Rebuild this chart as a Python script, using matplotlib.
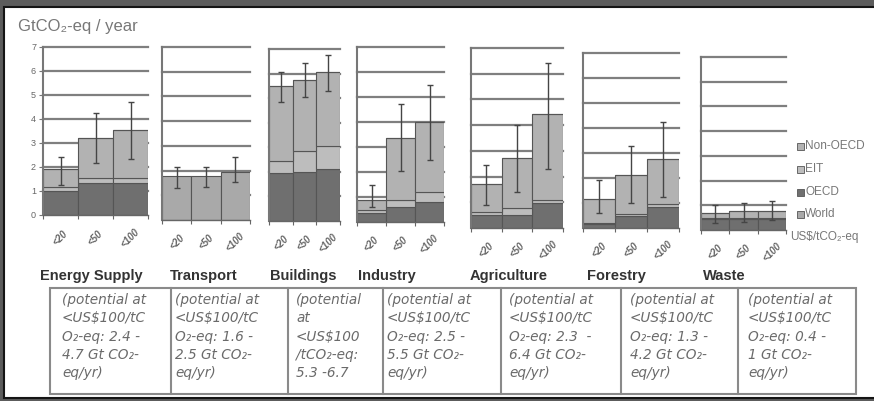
import matplotlib
matplotlib.use('Agg')
import matplotlib.pyplot as plt
from matplotlib.patches import Rectangle
from matplotlib.lines import Line2D

plt.rcParams['font.family'] = ['Liberation Sans', 'DejaVu Sans']

# ---------------- data ----------------
sectors = ["Energy Supply", "Transport", "Buildings", "Industry",
           "Agriculture", "Forestry", "Waste"]
price_labels = ["<20", "<50", "<100"]

oecd = [[1.00, 1.35, 1.35], [0, 0, 0], [1.95, 2.00, 2.10], [0.35, 0.60, 0.80],
        [0.50, 0.50, 0.97], [0.15, 0.50, 0.85], [0.45, 0.45, 0.45]]
eit = [[0.15, 0.18, 0.18], [0, 0, 0], [0.50, 0.85, 0.95], [0.15, 0.30, 0.40],
       [0.12, 0.28, 0.13], [0.05, 0.05, 0.10], [0.05, 0.05, 0.05]]
non_oecd = [[0.75, 1.67, 2.02], [0, 0, 0], [3.05, 2.90, 3.03], [0.40, 2.45, 2.80],
            [1.10, 1.93, 3.32], [0.97, 1.58, 1.81], [0.18, 0.25, 0.28]]
world = [[0, 0, 0], [1.80, 1.80, 1.95], [0, 0, 0], [0, 0, 0],
         [0, 0, 0], [0, 0, 0], [0, 0, 0]]
err_low = [[1.25, 2.15, 2.35], [1.30, 1.33, 1.55], [4.86, 5.06, 5.30], [0.60, 2.06, 2.48],
           [0.90, 1.40, 2.30], [0.60, 1.02, 1.26], [0.27, 0.33, 0.40]]
err_high = [[2.43, 4.26, 4.72], [2.15, 2.15, 2.55], [6.08, 6.42, 6.76], [1.47, 4.74, 5.47],
            [2.45, 4.00, 6.42], [1.93, 3.30, 4.26], [1.00, 1.10, 1.17]]
y_ticks = [0, 1, 2, 3, 4, 5, 6, 7]

potential_text = [
    ["(potential at", "<US$100/tC", "O\u2082-eq: 2.4 -", "4.7 Gt CO\u2082-", "eq/yr)"],
    ["(potential at", "<US$100/tC", "O\u2082-eq: 1.6 -", "2.5 Gt CO\u2082-", "eq/yr)"],
    ["(potential", "at", "<US$100", "/tCO\u2082-eq:", "5.3 -6.7"],
    ["(potential at", "<US$100/tC", "O\u2082-eq: 2.5 -", "5.5 Gt CO\u2082-", "eq/yr)"],
    ["(potential at", "<US$100/tC", "O\u2082-eq: 2.3  -", "6.4 Gt CO\u2082-", "eq/yr)"],
    ["(potential at", "<US$100/tC", "O\u2082-eq: 1.3 -", "4.2 Gt CO\u2082-", "eq/yr)"],
    ["(potential at", "<US$100/tC", "O\u2082-eq: 0.4 -", "1 Gt CO\u2082-", "eq/yr)"],
]
legend_labels = ["Non-OECD", "EIT", "OECD", "World"]

# ---------------- layout ----------------
W, H = 874, 401
fig = plt.figure(figsize=(W / 100, H / 100), dpi=100)
fig.patch.set_facecolor('#5c5c5c')


def fx(px):
    return px / W


def fy(py):
    return 1 - py / H


fig.patches.append(Rectangle((fx(4), fy(398)), fx(900) - fx(4), fy(7) - fy(398),
                             transform=fig.transFigure, facecolor='white',
                             edgecolor='#151515', lw=1.5, zorder=-10))

c_oecd, c_eit, c_non, c_world = '#6f6f6f', '#bdbdbd', '#b2b2b2', '#a9a9a9'
edge = '#555555'

# pixel boxes: x0, x1, ytop, ybottom
boxes = [(43, 148, 47, 215), (162, 250, 47, 220), (269, 340, 49, 221),
         (357, 444, 47, 222), (471, 563, 48, 228), (583, 679, 53, 228),
         (701, 786, 57, 230)]
name_x = [40, 170, 270, 358, 470, 587, 703]

for k, (x0, x1, yt, yb) in enumerate(boxes):
    ax = fig.add_axes([fx(x0), fy(yb), fx(x1) - fx(x0), fy(yt) - fy(yb)])
    ax.set_zorder(5)
    ax.set_xlim(-0.5, 2.5)
    ax.set_ylim(0, 7)
    ax.patch.set_alpha(0)
    for s in ['top', 'right']:
        ax.spines[s].set_visible(False)
    ax.spines['left'].set_color('#777777')
    ax.spines['left'].set_linewidth(1.5)
    ax.spines['bottom'].set_color('#666666')
    ax.spines['bottom'].set_linewidth(1.0)
    for v in y_ticks[1:]:
        ax.axhline(v, color='#7f7f7f', lw=1.6, zorder=1, clip_on=False)
    xs = [0, 1, 2]
    b1 = oecd[k]
    b2 = [a + b for a, b in zip(oecd[k], eit[k])]
    b3 = [a + b for a, b in zip(b2, non_oecd[k])]
    kw = dict(width=1.0, edgecolor=edge, linewidth=0.8, zorder=2)
    ax.bar(xs, oecd[k], color=c_oecd, **kw)
    ax.bar(xs, eit[k], bottom=b1, color=c_eit, **kw)
    ax.bar(xs, non_oecd[k], bottom=b2, color=c_non, **kw)
    ax.bar(xs, world[k], bottom=b3, color=c_world, **kw)
    mids = [(l + h) / 2 for l, h in zip(err_low[k], err_high[k])]
    half = [(h - l) / 2 for l, h in zip(err_low[k], err_high[k])]
    ax.errorbar(xs, mids, yerr=half, fmt='none', ecolor='#454545', elinewidth=1.0,
                capsize=2, capthick=1.0, zorder=4)
    ax.set_xticks([-0.5, 0.5, 1.5, 2.5])
    ax.set_xticklabels([])
    ax.tick_params(axis='x', length=3, color='#666666', direction='out')
    if k == 0:
        ax.set_yticks(y_ticks)
        ax.set_yticklabels([str(v) for v in y_ticks], fontsize=6.5, color='#666666')
        ax.tick_params(axis='y', length=3, color='#777777', pad=2)
    else:
        ax.set_yticks([])
    off = -23 if k == 0 else -22
    for i, lab in enumerate(price_labels):
        ax.annotate(lab, xy=(i, 0), xycoords=('data', 'axes fraction'),
                    xytext=(0, off), textcoords='offset pixels', rotation=45,
                    ha='center', va='center', fontsize=7, fontweight='bold',
                    style='italic', color='#666666', annotation_clip=False)
    fig.text(fx(name_x[k]), fy(276), sectors[k], fontsize=10.5, fontweight='bold',
             color='#333333', va='center', ha='left')

# y label
fig.text(fx(18), fy(26), "GtCO\u2082-eq / year", fontsize=12, color='#777777',
         va='center', ha='left')

# legend
leg_y = [146, 169, 192, 214]
leg_c = [c_non, c_eit, c_oecd, c_world]
for lab, yy, cc in zip(legend_labels, leg_y, leg_c):
    fig.patches.append(Rectangle((fx(797), fy(yy + 3.5)), fx(7), 7 / H,
                                 transform=fig.transFigure, facecolor=cc,
                                 edgecolor='#555555', lw=0.6))
    fig.text(fx(805), fy(yy), lab, fontsize=8.5, color='#777777', va='center', ha='left')
fig.text(fx(790), fy(237), "US$/tCO\u2082-eq", fontsize=8.5, color='#777777',
         va='center', ha='left')

# table
cols = [50, 171, 288, 383, 501, 621, 738, 856]
t_top, t_bot = 288, 394
fig.patches.append(Rectangle((fx(cols[0]), fy(t_bot)), fx(cols[-1]) - fx(cols[0]),
                             fy(t_top) - fy(t_bot), transform=fig.transFigure,
                             facecolor='none', edgecolor='#8a8a8a', lw=1.5))
for c in cols[1:-1]:
    fig.lines.append(Line2D([fx(c), fx(c)], [fy(t_top), fy(t_bot)],
                            transform=fig.transFigure, color='#8a8a8a', lw=1.5))
text_off = [12, 4, 8, 4, 8, 9, 10]
line_y = [300, 318, 337, 355, 373]
for j, lines in enumerate(potential_text):
    for ln, yy in zip(lines, line_y):
        fig.text(fx(cols[j] + text_off[j]), fy(yy), ln, fontsize=9.8, style='italic',
                 family=['DejaVu Sans'], color='#6a6a6a', va='center', ha='left')

fig.savefig('out.png', dpi=100, facecolor=fig.get_facecolor())
